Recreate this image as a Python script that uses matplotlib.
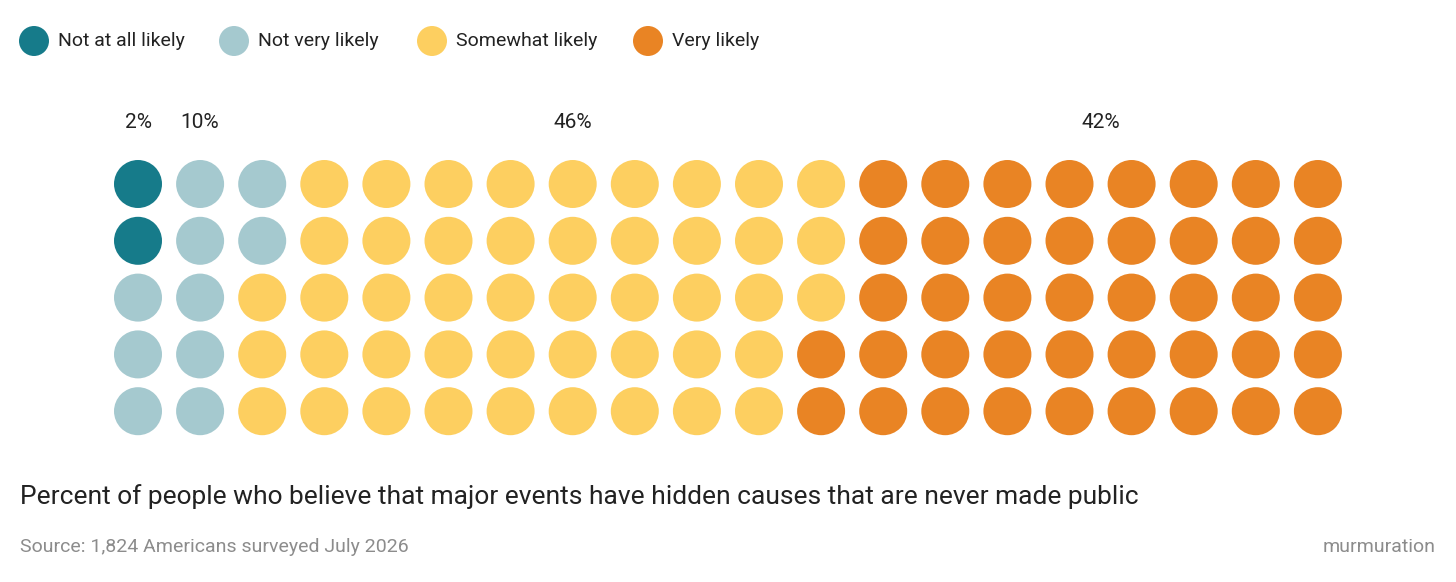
import matplotlib
matplotlib.use("Agg")
import matplotlib.pyplot as plt

categories = ["Not at all likely", "Not very likely", "Somewhat likely", "Very likely"]
values = [2, 10, 46, 42]
colors = ["#167b8a", "#a5c9cf", "#fdcf60", "#e98424"]
label_cols = [0, 1, 7, 15.5]
n_rows, n_cols = 5, 20

plt.rcParams['font.family'] = ['Liberation Sans Narrow', 'Roboto', 'DejaVu Sans']
W, H = 1456, 582
fig = plt.figure(figsize=(W/100, H/100), dpi=100)
ax = fig.add_axes([0, 0, 1, 1])
x0, dx, y0, dy = 138, 62.1, 184, 56.8
ax.set_xlim(-x0/dx, (W-x0)/dx)
ax.set_ylim((H-y0)/dy, -y0/dy)
ax.axis('off')

xs, ys, cs = [], [], []
idx = 0
for cat, v in enumerate(values):
    for _ in range(v):
        xs.append(idx // n_rows); ys.append(idx % n_rows); cs.append(colors[cat]); idx += 1
ax.scatter(xs, ys, s=(48*0.72)**2, c=cs, linewidths=0)

for v, c in zip(values, label_cols):
    ax.text(c, -1.08, f"{v}%", ha='center', va='center', fontsize=15, color='#222222')

def px(x, y):
    return x / W, 1 - y / H

lx = [34, 234, 432, 648]
for x, cat, col in zip(lx, categories, colors):
    fig.add_artist(matplotlib.patches.Ellipse(px(x, 41), 30/W, 30/H, transform=fig.transFigure, color=col, lw=0))
    fig.text(*px(x+24, 41), cat, ha='left', va='center', fontsize=14, color='#222222')

fig.text(*px(20, 497), "Percent of people who believe that major events have hidden causes that are never made public",
         ha='left', va='center', fontsize=19, color='#222222')
fig.text(*px(20, 547), "Source: 1,824 Americans surveyed July 2026", ha='left', va='center', fontsize=14, color='#8c8c8c')
fig.text(*px(1436, 547), "murmuration", ha='right', va='center', fontsize=14, color='#8c8c8c')

fig.savefig("out.png", dpi=100, facecolor='white')
